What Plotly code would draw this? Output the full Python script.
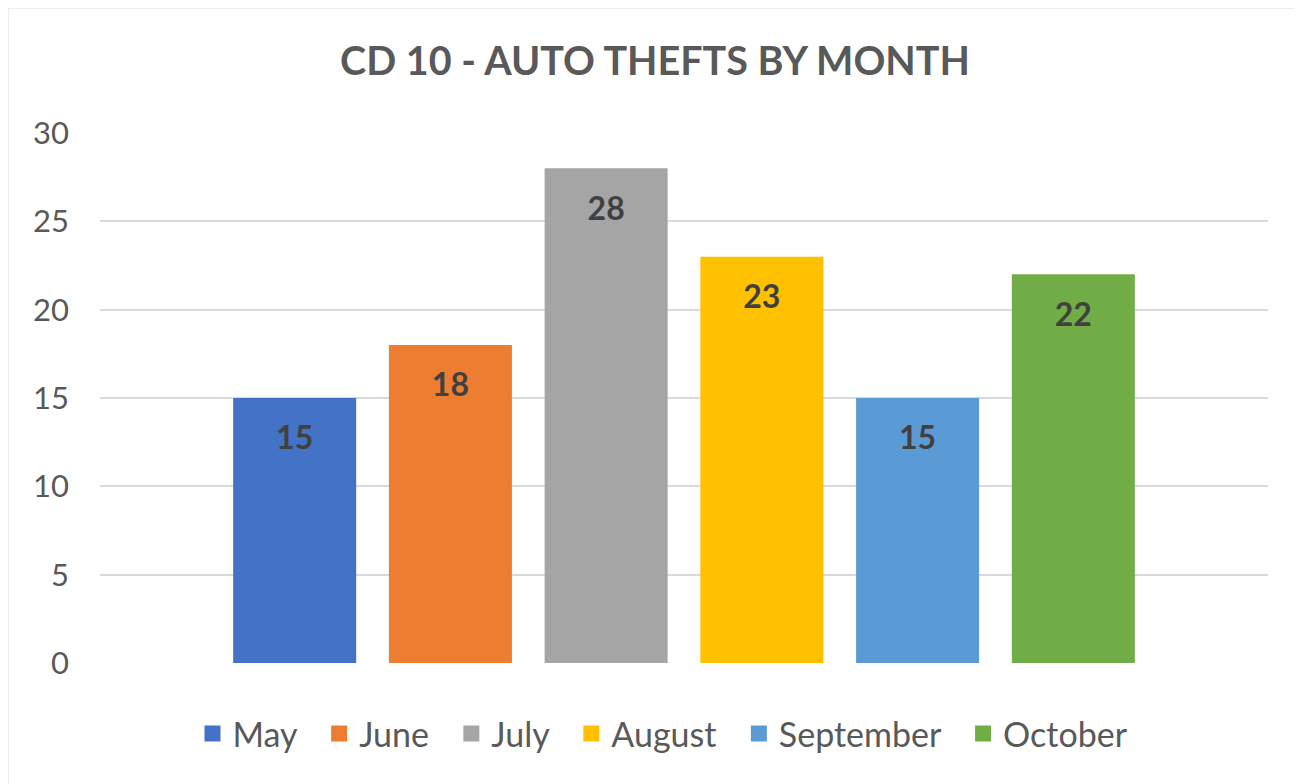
import plotly.graph_objects as go

title = "CD 10 - AUTO THEFTS BY MONTH"
category = ["CD 10"]
months = ["May", "June", "July", "August", "September", "October"]
thefts = [15, 18, 28, 23, 15, 22]
colors = ["#4472C4", "#ED7D31", "#A5A5A5", "#FFC000", "#5B9BD5", "#70AD47"]
y_ticks = [0, 5, 10, 15, 20, 25, 30]

FONT = "Lato"
LABEL_SIZE = 32

# page has an 8px body margin; figure sized so it fits the 1302x784 window
W, H = 1294, 776
L, T, R, B = 92, 125, 34, 121
PW, PH = W - L - R, H - T - B


def px_x(x):  # screen x -> paper
    return (x - 8 - L) / PW


def px_y(y):  # screen y -> paper
    return (H - B - (y - 8)) / PH


fig = go.Figure()
for m, v, c in zip(months, thefts, colors):
    fig.add_trace(go.Bar(
        x=category, y=[v], name=m, marker=dict(color=c, line=dict(width=0)),
        text=["\u00a0<br><span style='font-size:%dpx'>%d</span>" % (LABEL_SIZE, v)],
        texttemplate="%{text}",
        textposition="inside", insidetextanchor="end",
        insidetextfont=dict(family=FONT, size=21, color="#404040", weight="bold"),
        showlegend=False, hoverinfo="skip",
    ))
for i, (m, c) in enumerate(zip(months, colors)):
    pad = "\u00a0\u00a0" if i < len(months) - 1 else ""
    fig.add_trace(go.Scatter(
        x=[None], y=[None], mode="markers", name=m + pad,
        marker=dict(symbol="square", size=16, color=c),
    ))

fig.update_layout(
    width=W, height=H,
    margin=dict(l=L, r=R, t=T, b=B),
    paper_bgcolor="white", plot_bgcolor="white",
    barmode="group", bargap=0.2, bargroupgap=0.21,
    font=dict(family=FONT, color="#595959"),
    title=dict(text="<b>%s</b>" % title, x=647 / W, xanchor="center", xref="container",
               y=1 - 53.5 / H, yanchor="middle", yref="container",
               font=dict(family=FONT, size=39.5, color="#595959")),
    showlegend=True,
    legend=dict(orientation="h", x=px_x(663), xanchor="center", y=px_y(734), yanchor="middle",
                font=dict(family=FONT, size=34, color="#595959"),
                itemsizing="trace"),
    xaxis=dict(showticklabels=False, showgrid=False, zeroline=False, showline=False),
    yaxis=dict(range=[0, 30], tickvals=y_ticks, showgrid=True, gridcolor="#D9D9D9",
               gridwidth=2, zeroline=False, showline=False,
               tickfont=dict(family=FONT, size=31, color="#595959"),
               ticklabelstandoff=30),
    shapes=[dict(type="rect", xref="paper", yref="paper",
                 x0=px_x(7), x1=px_x(1330), y0=px_y(800), y1=px_y(7),
                 line=dict(color="#D9D9D9", width=3), fillcolor="rgba(0,0,0,0)",
                 layer="below")],
)

fig.write_html("out.html")
